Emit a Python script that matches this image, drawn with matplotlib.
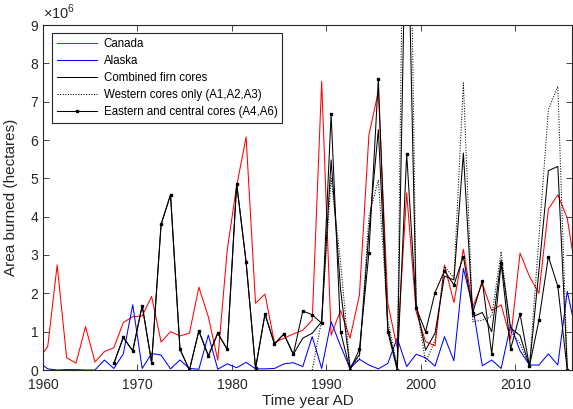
import matplotlib
matplotlib.use('Agg')
import matplotlib.pyplot as plt
import numpy as np

plt.rcParams['font.family'] = ['Liberation Sans', 'DejaVu Sans']
plt.rcParams['mathtext.fontset'] = 'custom'
plt.rcParams['mathtext.rm'] = 'Liberation Sans'

# burned area in millions of hectares, plotted at mid-year
years_all = np.arange(1959.5, 2017.0, 1.0)
canada = [0.28, 0.61, 2.74, 0.32, 0.18, 1.13, 0.21, 0.48, 0.58, 1.24,
          1.39, 1.41, 1.92, 0.73, 1.00, 0.89, 0.96, 2.16, 1.39, 0.26,
          3.13, 4.80, 6.08, 1.74, 1.98, 0.71, 0.83, 0.94, 1.04, 1.30,
          7.53, 0.91, 1.55, 0.83, 1.96, 6.13, 7.27, 1.74, 0.57, 4.62,
          1.52, 0.74, 0.63, 2.74, 1.76, 3.15, 1.65, 2.26, 1.55, 1.70,
          0.80, 3.05, 2.44, 2.00, 4.20, 4.57, 3.96, 2.40]
alaska = [0.22, 0.03, 0.00, 0.01, 0.01, 0.00, 0.00, 0.26, 0.04, 0.42,
          1.70, 0.04, 0.43, 0.39, 0.03, 0.26, 0.04, 0.02, 0.91, 0.02,
          0.16, 0.06, 0.20, 0.03, 0.03, 0.04, 0.16, 0.19, 0.09, 0.87,
          0.04, 1.26, 0.63, 0.04, 0.28, 0.13, 0.03, 0.17, 0.83, 0.09,
          0.41, 0.32, 0.10, 0.87, 0.24, 2.65, 1.65, 0.11, 0.26, 0.04,
          1.17, 0.50, 0.13, 0.13, 0.42, 0.13, 2.05, 0.90]

years_core = np.arange(1967.5, 2016.0, 1.0)
eastern = [0.17, 0.85, 0.50, 1.68, 0.19, 3.80, 4.57, 0.54, 0.00, 1.02,
           0.37, 0.96, 0.54, 4.86, 2.82, 0.04, 1.46, 0.68, 0.94, 0.41,
           1.54, 1.44, 1.22, 6.68, 1.00, 0.00, 0.54, 3.05, 7.59, 1.00,
           0.00, 5.64, 1.62, 1.00, 2.02, 2.59, 2.22, 2.96, 1.50, 2.33,
           0.42, 2.78, 0.55, 1.46, 0.10, 1.30, 2.96, 2.18, 0.00]
combined = [0.17, 0.85, 0.50, 1.68, 0.19, 3.80, 4.57, 0.54, 0.00, 1.02,
            0.37, 0.96, 0.54, 4.86, 2.82, 0.04, 1.46, 0.68, 0.94, 0.41,
            0.83, 0.96, 1.26, 5.48, 2.10, 0.05, 0.40, 3.60, 6.27, 1.10,
            0.05, 13.3, 1.70, 0.52, 0.96, 2.45, 2.35, 5.66, 1.39, 1.50,
            1.00, 2.87, 1.10, 0.90, 0.10, 2.60, 5.20, 5.31, 0.05]

years_west = np.arange(1988.5, 2016.0, 1.0)
western = [0.00, 1.30, 5.00, 2.80, 0.10, 0.30, 4.00, 4.96, 1.30, 0.10,
           19.5, 1.80, 0.20, 0.77, 2.70, 2.40, 7.49, 1.26, 1.30, 1.40,
           3.09, 1.00, 0.70, 0.10, 3.45, 6.79, 7.40, 0.05]

fig = plt.figure(figsize=(5.73, 4.09), dpi=100)
ax = fig.add_axes([43/573, 39/409, 529/573, 345/409])

lw = 0.75
ax.plot(years_all, canada, color='#ff0000', lw=lw, label='Canada')
ax.plot(years_all, alaska, color='#0000ff', lw=lw, label='Alaska')
ax.plot(years_core, combined, color='black', lw=lw, label='Combined firn cores')
ax.plot(years_west, western, color='black', lw=lw, ls=(0, (1, 1.5)),
        label='Western cores only (A1,A2,A3)')
ax.plot(years_core, eastern, color='black', lw=lw, marker='s', ms=1.6,
        label='Eastern and central cores (A4,A6)')

ax.set_xlim(1960, 2016)
ax.set_ylim(0, 9)
ax.set_xticks(np.arange(1960, 2011, 10))
ax.set_yticks(np.arange(0, 10, 1))

gray = '#262626'
for s in ax.spines.values():
    s.set_color(gray)
    s.set_linewidth(0.8)
ax.tick_params(direction='in', top=True, right=True, length=4, width=0.6,
               colors=gray, labelsize=10, labelcolor=gray)
ax.tick_params(axis='x', pad=6)

ax.set_xlabel('Time year AD', fontsize=11, color=gray, labelpad=1)
ax.set_ylabel('Area burned (hectares)', fontsize=11, color=gray, labelpad=9)
ax.text(0.0, 1.008, r'$\times10^{6}$', transform=ax.transAxes, ha='left',
        va='bottom', fontsize=10.5, color=gray)

leg = ax.legend(loc='upper left', bbox_to_anchor=(0.017, 0.977),
                borderaxespad=0, fontsize=8.3, handlelength=3.5,
                fancybox=False, framealpha=1, edgecolor=gray,
                labelspacing=0.45, borderpad=0.4, handletextpad=0.6)
leg.get_frame().set_linewidth(0.8)

fig.savefig('out.png', dpi=100)
